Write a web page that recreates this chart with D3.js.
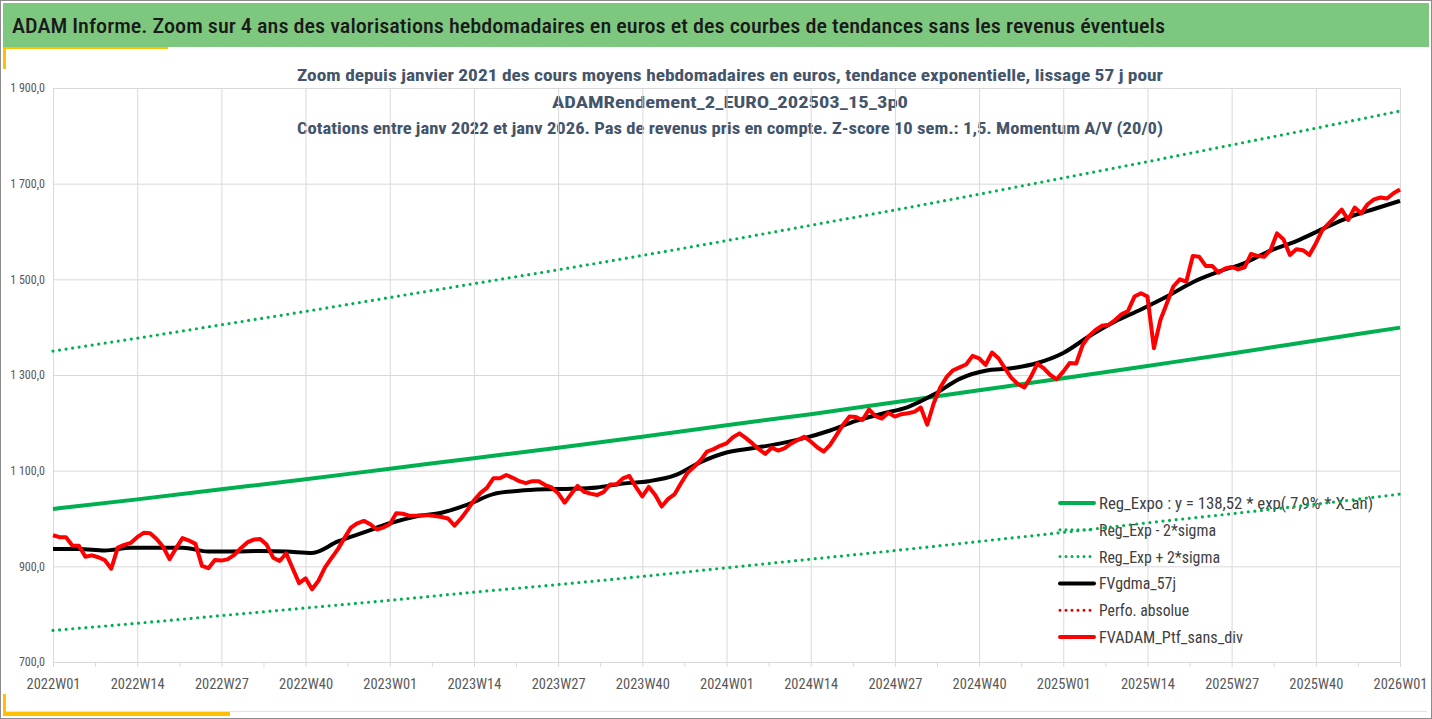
<!DOCTYPE html>
<html>
<head>
<meta charset="utf-8">
<script src="https://cdn.jsdelivr.net/npm/d3@7/dist/d3.min.js"></script>
<style>
body { margin: 0; background: #fff; }
svg { display: block; }
</style>
</head>
<body>
<svg id="chart" width="1432" height="719"></svg>
<script>
const weekLabels = ["2022W01","2022W14","2022W27","2022W40","2023W01","2023W14","2023W27","2023W40",
    "2024W01","2024W14","2024W27","2024W40","2025W01","2025W14","2025W27","2025W40","2026W01"];
const yTicks = [700, 900, 1100, 1300, 1500, 1700, 1900];
const yTickLabels = ["700,0", "900,0", "1 100,0", "1 300,0", "1 500,0", "1 700,0", "1 900,0"];

// FVADAM_Ptf_sans_div, one value per week from 2022W01 to 2026W01
const ptfValues = [
    965,961,961,943,943,920,923,919,913,895,939,945,949,
    961,970,969,957,941,915,938,959,954,947,901,896,913,
    912,915,924,938,950,956,957,945,918,911,927,896,865,
    875,852,870,898,917,936,959,981,990,995,988,977,981,
    988,1011,1010,1006,1006,1007,1007,1005,1003,1000,985,1000,1018,
    1038,1053,1064,1084,1084,1091,1085,1078,1074,1078,1078,1070,1065,
    1053,1033,1051,1068,1056,1052,1049,1055,1071,1071,1084,1089,1066,
    1046,1066,1049,1025,1041,1051,1074,1096,1108,1122,1140,1145,1152,
    1157,1170,1178,1168,1157,1145,1135,1148,1142,1147,1157,1164,1171,
    1161,1149,1140,1154,1175,1196,1213,1212,1206,1228,1214,1209,1221,
    1213,1218,1220,1223,1232,1196,1241,1274,1296,1310,1316,1322,1340,
    1335,1321,1347,1335,1314,1294,1281,1274,1296,1324,1314,1300,1291,
    1307,1325,1324,1363,1382,1394,1403,1405,1415,1427,1434,1464,1471,
    1464,1356,1415,1450,1485,1500,1495,1549,1547,1528,1528,1514,1523,
    1526,1521,1525,1553,1549,1547,1561,1596,1584,1551,1563,1561,1551,
    1575,1603,1617,1631,1646,1624,1650,1638,1657,1667,1671,1669,1680,
    1688
];

// FVgdma_57j, read every 4 weeks
const gdmaValues = [
    936,936,933,939,939,939,931,931,932,931,
    928,952,971,990,1004,1012,1029,1051,1058,1061,
    1062,1065,1073,1078,1090,1118,1138,1147,1156,1168,
    1184,1204,1219,1233,1259,1292,1309,1314,1325,1346,
    1381,1412,1437,1464,1494,1516,1534,1560,1580,1605,
    1629,1647,1664
];

// regression and bands, read at each labelled week
const trendValues = [1020,1040,1061,1082,1104,1126,1148,1171,1195,1218,1243,1268,1293,1319,1345,1372,1399];
const upperValues = [1350,1377,1405,1433,1462,1491,1520,1550,1581,1613,1645,1678,1712,1746,1781,1816,1852];
const lowerValues = [766,781,797,813,829,846,862,879,897,915,933,952,971,991,1010,1030,1051];

const legendNames = ["Reg_Expo : y = 138,52 * exp( 7,9% * X_an)", "Reg_Exp - 2*sigma", "Reg_Exp + 2*sigma",
    "FVgdma_57j", "Perfo. absolue", "FVADAM_Ptf_sans_div"];

const title = "ADAM Informe. Zoom sur 4 ans des valorisations hebdomadaires en euros et des courbes de tendances sans les revenus éventuels";
const subtitle = ["Zoom depuis janvier 2021 des cours moyens hebdomadaires  en euros, tendance exponentielle, lissage 57 j pour",
    "ADAMRendement_2_EURO_202503_15_3p0",
    "Cotations entre janv 2022 et janv 2026. Pas de revenus pris en compte. Z-score 10 sem.: 1,5. Momentum A/V (20/0)"];

const font = "'Liberation Sans Narrow', 'Roboto Condensed', 'Open Sans', sans-serif";
const green = "#00b050";

const svg = d3.select("#chart").style("font-family", font);

// frame and header
svg.append("rect").attr("x", 0.5).attr("y", 0.5).attr("width", 1431).attr("height", 718)
    .attr("fill", "#fff").attr("stroke", "#8c8c8c")
svg.append("rect").attr("x", 3).attr("y", 3).attr("width", 1426).attr("height", 44).attr("fill", "#7ec77f")
svg.append("rect").attr("x", 3).attr("y", 47).attr("width", 165).attr("height", 2).attr("fill", "#ffc000")
svg.append("rect").attr("x", 3).attr("y", 47).attr("width", 3).attr("height", 22).attr("fill", "#ffc000")
svg.append("line").attr("x1", 6).attr("x2", 1427).attr("y1", 711.5).attr("y2", 711.5).attr("stroke", "#e3e3e3")
svg.append("rect").attr("x", 3).attr("y", 712).attr("width", 227).attr("height", 4).attr("fill", "#ffc000")
svg.append("rect").attr("x", 3).attr("y", 694).attr("width", 3).attr("height", 22).attr("fill", "#ffc000")

svg.append("text").attr("x", 12).attr("y", 33).text(title)
    .attr("font-size", 21).attr("font-weight", 500).attr("fill", "#1a1a1a")
    .attr("textLength", 1153).attr("lengthAdjust", "spacingAndGlyphs")

const subWidths = [866, 356, 866];
svg.selectAll("text.sub")
    .data(subtitle)
    .enter()
    .append("text")
    .attr("class", "sub")
    .attr("x", 730)
    .attr("y", (d, i) => 81 + i * 26.5)
    .attr("text-anchor", "middle")
    .attr("font-size", 17)
    .attr("font-weight", "bold")
    .attr("fill", "#44546a")
    .attr("textLength", (d, i) => subWidths[i])
    .attr("lengthAdjust", "spacingAndGlyphs")
    .text(d => d)

// scales
const x = d3.scaleLinear().domain([0, 208]).range([53, 1400]);
const y = d3.scaleLinear().domain([700, 1900]).range([662, 88]);
const labelWeeks = weekLabels.map((d, i) => i * 13);

// gridlines
svg.append("g")
    .attr("transform", "translate(0,662)")
    .call(d3.axisBottom(x).tickValues(labelWeeks).tickSize(-574).tickFormat(""))
    .call(g => g.select(".domain").remove())
    .call(g => g.selectAll("line").attr("stroke", "#d9d9d9"))
svg.append("g")
    .attr("transform", "translate(53,0)")
    .call(d3.axisLeft(y).tickValues(yTicks).tickSize(-1347).tickFormat(""))
    .call(g => g.select(".domain").remove())
    .call(g => g.selectAll("line").attr("stroke", "#d9d9d9"))

// x axis with minor ticks
svg.append("g")
    .attr("transform", "translate(0,662)")
    .call(d3.axisBottom(x).tickValues(d3.range(0, 209, 6.5)).tickSize(5).tickFormat(""))
    .call(g => g.selectAll("line").attr("stroke", "#d9d9d9"))
    .call(g => g.select(".domain").attr("stroke", "#d9d9d9"))
svg.append("g")
    .attr("transform", "translate(0,662)")
    .call(d3.axisBottom(x).tickValues(labelWeeks).tickSize(0).tickPadding(17).tickFormat((d, i) => weekLabels[i]))
    .call(g => g.select(".domain").remove())
    .call(g => g.selectAll("text").attr("font-size", 14.5).attr("fill", "#595959").attr("font-family", font))

svg.append("g")
    .attr("transform", "translate(45,0)")
    .call(d3.axisLeft(y).tickValues(yTicks).tickSize(0).tickPadding(0).tickFormat((d, i) => yTickLabels[i]))
    .call(g => g.select(".domain").remove())
    .call(g => g.selectAll("text").attr("font-size", 12).attr("fill", "#595959").attr("font-family", font))

// legend (under the lines, as in the original)
const legendStyles = [
    {color: green, dash: null, width: 4, len: 274},
    {color: green, dash: "0 6", width: 3, len: 117},
    {color: green, dash: "0 6", width: 3, len: 121},
    {color: "#000", dash: null, width: 4, len: 77},
    {color: "#e00000", dash: "0 6", width: 3, len: 90},
    {color: "#ff0000", dash: null, width: 4, len: 144}
];
const legend = svg.append("g").attr("transform", "translate(1059,503)");
const rows = legend.selectAll("g")
    .data(legendNames)
    .enter()
    .append("g")
    .attr("transform", (d, i) => `translate(0,${i * 26.8})`)
rows.append("line")
    .attr("x1", 1).attr("x2", 35).attr("y1", 0).attr("y2", 0)
    .attr("stroke", (d, i) => legendStyles[i].color)
    .attr("stroke-width", (d, i) => legendStyles[i].width)
    .attr("stroke-dasharray", (d, i) => legendStyles[i].dash)
    .attr("stroke-linecap", "round")
rows.append("text")
    .attr("x", 40).attr("y", 6)
    .attr("font-size", 16.5)
    .attr("fill", "#404040")
    .attr("textLength", (d, i) => legendStyles[i].len)
    .attr("lengthAdjust", "spacingAndGlyphs")
    .text(d => d)

// series
const lineOf = (weeks, curve) => d3.line()
    .x((d, i) => x(weeks[i]))
    .y(d => y(d))
    .curve(curve);

const bandWeeks = trendValues.map((d, i) => i * 13);
const gdmaWeeks = gdmaValues.map((d, i) => i * 4);
const ptfWeeks = ptfValues.map((d, i) => i);

svg.append("path").datum(upperValues)
    .attr("d", lineOf(bandWeeks, d3.curveMonotoneX))
    .attr("fill", "none").attr("stroke", green).attr("stroke-width", 3.2)
    .attr("stroke-dasharray", "0 6.6").attr("stroke-linecap", "round")
svg.append("path").datum(lowerValues)
    .attr("d", lineOf(bandWeeks, d3.curveMonotoneX))
    .attr("fill", "none").attr("stroke", green).attr("stroke-width", 3.2)
    .attr("stroke-dasharray", "0 6.6").attr("stroke-linecap", "round")
svg.append("path").datum(trendValues)
    .attr("d", lineOf(bandWeeks, d3.curveMonotoneX))
    .attr("fill", "none").attr("stroke", green).attr("stroke-width", 4)
svg.append("path").datum(gdmaValues)
    .attr("d", lineOf(gdmaWeeks, d3.curveMonotoneX))
    .attr("fill", "none").attr("stroke", "#000").attr("stroke-width", 4)
svg.append("path").datum(ptfValues)
    .attr("d", lineOf(ptfWeeks, d3.curveLinear))
    .attr("fill", "none").attr("stroke", "#ff0000").attr("stroke-width", 4)
    .attr("stroke-linejoin", "round")
</script>
</body>
</html>
